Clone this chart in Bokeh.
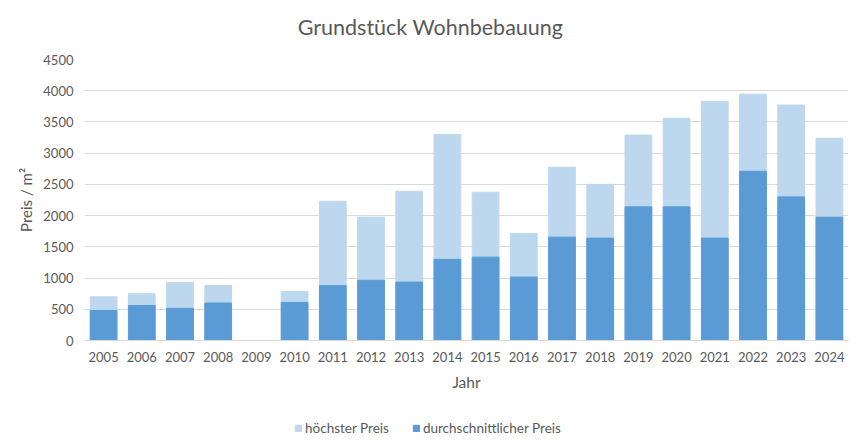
from bokeh.plotting import figure
from bokeh.layouts import column
from bokeh.models import FactorRange, ColumnDataSource, Legend, LegendItem, SingleIntervalTicker, Label
from bokeh.embed import file_html
from bokeh.resources import INLINE

years = [str(y) for y in range(2005, 2025)]
hoechster = [700, 750, 930, 880, None, 785, 2230, 1975, 2390, 3300,
             2375, 1715, 2775, 2500, 3290, 3560, 3830, 3945, 3770, 3240]
durchschnitt = [480, 560, 515, 600, None, 610, 880, 965, 935, 1300,
                1335, 1015, 1655, 1640, 2140, 2140, 1640, 2710, 2300, 1975]
series_names = ["höchster Preis", "durchschnittlicher Preis"]
series_colors = ["#BDD7EE", "#5B9BD5"]
title_text = "Grundstück Wohnbebauung"

def clean(v):
    return [float('nan') if x is None else x for x in v]

src = ColumnDataSource(dict(x=years, hi=clean(hoechster), avg=clean(durchschnitt)))

FONT = "Lato"
TXT = "#595959"

# title strip
tf = figure(width=861, height=49, x_range=(84, 848), y_range=(0, 49),
            output_backend="svg", toolbar_location=None,
            x_axis_location=None, y_axis_location=None,
            min_border_left=0, min_border_right=0, min_border_top=0, min_border_bottom=0)
tf.grid.visible = False
tf.outline_line_color = None
tf.add_layout(Label(x=430, y=23, text=title_text, text_align="center",
                    text_baseline="alphabetic", text_font=FONT,
                    text_font_size="21.5px", text_color=TXT))

p = figure(x_range=FactorRange(*years), y_range=(0, 4500), width=861, height=357,
           output_backend="svg", toolbar_location=None,
           min_border_left=84, min_border_right=13, min_border_top=10, min_border_bottom=66)
p.outline_line_color = None

r1 = p.vbar(x='x', top='hi', width=0.7, source=src, color=series_colors[0])
r2 = p.vbar(x='x', top='avg', width=0.7, source=src, color=series_colors[1])

p.yaxis.ticker = SingleIntervalTicker(interval=500)
p.yaxis.axis_line_color = None
p.yaxis.major_tick_line_color = None
p.yaxis.minor_tick_line_color = None
p.yaxis.major_label_text_font = FONT
p.yaxis.major_label_text_font_size = "13px"
p.yaxis.major_label_text_color = TXT
p.yaxis.axis_label = "Preis / m²"
p.yaxis.axis_label_text_font = FONT
p.yaxis.axis_label_text_font_size = "15px"
p.yaxis.axis_label_text_font_style = "normal"
p.yaxis.axis_label_text_color = TXT

p.xaxis.axis_line_color = "#D9D9D9"
p.xaxis.major_tick_line_color = None
p.xaxis.minor_tick_line_color = None
p.xaxis.major_label_text_font = FONT
p.xaxis.major_label_text_font_size = "13px"
p.xaxis.major_label_text_color = TXT
p.xaxis.axis_label = "Jahr"
p.xaxis.axis_label_text_font = FONT
p.xaxis.axis_label_text_font_size = "15.5px"
p.xaxis.axis_label_text_font_style = "normal"
p.xaxis.axis_label_text_color = TXT
p.xaxis.axis_label_standoff = 8

p.xgrid.grid_line_color = None
p.ygrid.grid_line_color = "#D9D9D9"

# legend strip below the chart (its bars lie far below its visible range)
lf = figure(width=861, height=40, x_range=FactorRange(*years), y_range=(5000, 5001),
            output_backend="svg", toolbar_location=None,
            x_axis_location=None, y_axis_location=None,
            min_border_left=0, min_border_right=0, min_border_top=0, min_border_bottom=0)
lf.grid.visible = False
lf.outline_line_color = None
d1 = lf.vbar(x='x', top='hi', width=0.7, source=src, color=series_colors[0])
d2 = lf.vbar(x='x', top='avg', width=0.7, source=src, color=series_colors[1])
legend = Legend(items=[LegendItem(label=series_names[0], renderers=[d1]),
                       LegendItem(label=series_names[1], renderers=[d2])],
                orientation="horizontal", location=(210, 10),
                label_text_font=FONT, label_text_font_size="13.5px", label_text_color=TXT,
                glyph_width=8, glyph_height=8, label_standoff=3, spacing=23,
                border_line_color=None, background_fill_alpha=0,
                padding=6, margin=0)
lf.add_layout(legend, "center")

layout = column(tf, p, lf, spacing=0)
open("out.html", "w").write(file_html(layout, INLINE))
